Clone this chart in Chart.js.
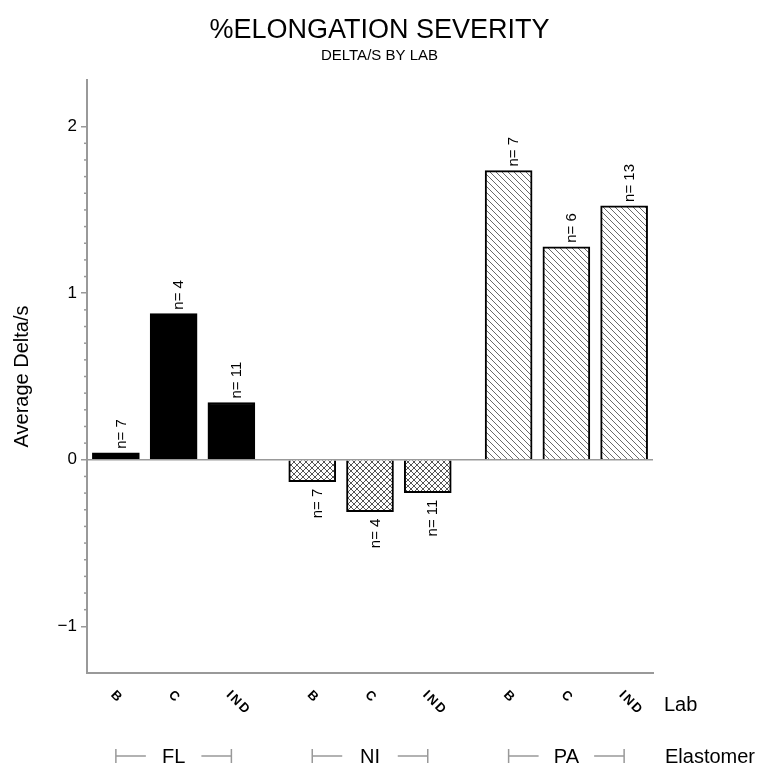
<!DOCTYPE html>
<html><head><meta charset="utf-8">
<script src="https://cdn.jsdelivr.net/npm/chart.js@4.4.1/dist/chart.umd.min.js"></script>
<style>html,body{margin:0;padding:0;background:#fff}#wrap{width:759px;height:770px}</style>
</head><body><div id="wrap"><canvas id="c" width="759" height="770"></canvas></div>
<script>
const elastomers = ['FL', 'NI', 'PA'];
const labs = ['B', 'C', 'IND'];
const flValues = [0.042, 0.877, 0.344];
const niValues = [-0.131, -0.311, -0.197];
const paValues = [1.736, 1.279, 1.524];
const flCounts = [7, 4, 11];
const niCounts = [7, 4, 11];
const paCounts = [7, 6, 13];
const yTickValues = [-1, 0, 1, 2];
const yTickLabels = ['\u22121', '0', '1', '2'];
const minorTickValues = [];
for (let k = -10; k <= 20; k++) { if (k % 10 !== 0) minorTickValues.push(k / 10); }

const FONT = '"Liberation Sans", Arial, sans-serif';
Chart.defaults.font.family = FONT;
Chart.defaults.color = '#000';
const groupStep = 3.4;
const AXIS = '#999';

function makeDiagPattern() {
  const s = 6, c = document.createElement('canvas');
  c.width = s; c.height = s;
  const g = c.getContext('2d');
  g.fillStyle = '#fff'; g.fillRect(0, 0, s, s);
  g.strokeStyle = '#6a6a6a'; g.lineWidth = 1;
  g.beginPath();
  g.moveTo(-1, -1); g.lineTo(s + 1, s + 1);
  g.moveTo(-1, s - 1); g.lineTo(1, s + 1);
  g.moveTo(s - 1, -1); g.lineTo(s + 1, 1);
  g.stroke();
  return g.createPattern(c, 'repeat');
}
function makeCrossPattern() {
  const s = 6, c = document.createElement('canvas');
  c.width = s; c.height = s;
  const g = c.getContext('2d');
  g.fillStyle = '#fff'; g.fillRect(0, 0, s, s);
  g.strokeStyle = '#555'; g.lineWidth = 1;
  g.beginPath();
  g.moveTo(-1, -1); g.lineTo(s + 1, s + 1);
  g.moveTo(s + 1, -1); g.lineTo(-1, s + 1);
  g.stroke();
  return g.createPattern(c, 'repeat');
}

const seriesValues = [flValues, niValues, paValues];
const seriesCounts = [flCounts, niCounts, paCounts];
const fills = ['#000', makeCrossPattern(), makeDiagPattern()];

const datasets = elastomers.map((name, g) => ({
  label: name,
  data: seriesValues[g].map((v, i) => ({ x: g * groupStep + i, y: v })),
  counts: seriesCounts[g],
  backgroundColor: fills[g],
  borderColor: '#000',
  borderWidth: 2,
  barThickness: 47,
  grouped: false
}));

const annotate = {
  id: 'annotate',
  afterDraw(chart) {
    const ctx = chart.ctx, xs = chart.scales.x, ys = chart.scales.y, area = chart.chartArea;
    ctx.save();
    // minor ticks
    ctx.strokeStyle = AXIS; ctx.lineWidth = 1.5;
    minorTickValues.forEach(v => {
      const py = ys.getPixelForValue(v);
      ctx.beginPath(); ctx.moveTo(area.left - 3, py); ctx.lineTo(area.left, py); ctx.stroke();
    });
    // n labels
    ctx.fillStyle = '#000';
    ctx.font = '15px ' + FONT;
    chart.data.datasets.forEach((ds, di) => {
      const meta = chart.getDatasetMeta(di);
      meta.data.forEach((el, i) => {
        const val = ds.data[i].y;
        const txt = 'n= ' + ds.counts[i];
        ctx.save();
        ctx.textBaseline = 'top';
        if (val >= 0) {
          ctx.translate(el.x - 2, el.y - 4);
          ctx.rotate(-Math.PI / 2);
          ctx.textAlign = 'left';
        } else {
          ctx.translate(el.x - 2, el.y + 7);
          ctx.rotate(-Math.PI / 2);
          ctx.textAlign = 'right';
        }
        ctx.fillText(txt, 0, 0);
        ctx.restore();
      });
    });
    // lab labels (rotated)
    ctx.font = 'bold 13px ' + FONT;
    elastomers.forEach((name, g) => {
      labs.forEach((lab, i) => {
        const px = xs.getPixelForValue(g * groupStep + i);
        ctx.save();
        ctx.translate(px - 3, 693);
        ctx.rotate(Math.PI / 4);
        ctx.textAlign = 'left'; ctx.textBaseline = 'middle';
        if ('letterSpacing' in ctx) ctx.letterSpacing = '2px';
        ctx.fillText(lab, 0, 0);
        ctx.restore();
      });
    });
    // group brackets
    const by = 756;
    elastomers.forEach((name, g) => {
      const x1 = xs.getPixelForValue(g * groupStep);
      const x2 = xs.getPixelForValue(g * groupStep + labs.length - 1);
      const xc = (x1 + x2) / 2;
      ctx.strokeStyle = AXIS; ctx.lineWidth = 1.5;
      ctx.beginPath();
      ctx.moveTo(x1, by - 7); ctx.lineTo(x1, by + 7);
      ctx.moveTo(x1, by); ctx.lineTo(x1 + 30, by);
      ctx.moveTo(x2, by - 7); ctx.lineTo(x2, by + 7);
      ctx.moveTo(x2, by); ctx.lineTo(x2 - 30, by);
      ctx.stroke();
      ctx.font = '20px ' + FONT;
      ctx.textAlign = 'center'; ctx.textBaseline = 'middle';
      ctx.fillText(name, xc, by + 1);
    });
    ctx.font = '20px ' + FONT;
    ctx.textAlign = 'left'; ctx.textBaseline = 'middle';
    ctx.fillText('Lab', area.right + 11, 705);
    ctx.fillText('Elastomer', area.right + 12, by + 1);
    ctx.restore();
  }
};

new Chart(document.getElementById('c'), {
  type: 'bar',
  data: { datasets },
  options: {
    responsive: false,
    animation: false,
    layout: { padding: 0 },
    plugins: {
      legend: { display: false },
      tooltip: { enabled: false },
      title: { display: true, text: '%ELONGATION SEVERITY', color: '#000',
        font: { size: 27, weight: 'normal', family: FONT }, padding: { top: 14, bottom: 0 } },
      subtitle: { display: true, text: 'DELTA/S BY LAB', color: '#000',
        font: { size: 15, weight: 'normal', family: FONT }, padding: { top: 0, bottom: 15.6 } }
    },
    scales: {
      x: {
        type: 'linear', min: -0.5, max: 9.3, offset: false,
        ticks: { display: false },
        grid: { display: false, drawTicks: false, offset: false },
        border: { display: true, color: AXIS, width: 2 },
        afterFit: s => { s.height = 97; }
      },
      y: {
        min: -1.28, max: 2.28,
        afterBuildTicks: s => { s.ticks = yTickValues.map(v => ({ value: v })); },
        ticks: { callback: v => yTickLabels[yTickValues.indexOf(v)], font: { size: 17 }, color: '#000', padding: 4 },
        grid: {
          color: c => (c.tick && c.tick.value === 0) ? AXIS : 'rgba(0,0,0,0)',
          lineWidth: 1.5, drawTicks: true, tickLength: 6, tickColor: AXIS, tickWidth: 1.5
        },
        border: { display: true, color: AXIS, width: 2 },
        title: { display: true, text: 'Average Delta/s', color: '#000', font: { size: 20 }, padding: { top: 10, bottom: 0 } },
        afterFit: s => { s.width = 87; }
      },
      yRight: {
        position: 'right', min: -1.28, max: 2.28,
        ticks: { display: false },
        grid: { display: false, drawTicks: false },
        border: { display: false },
        afterFit: s => { s.width = 106; }
      }
    }
  },
  plugins: [annotate]
});
</script>
</body></html>
